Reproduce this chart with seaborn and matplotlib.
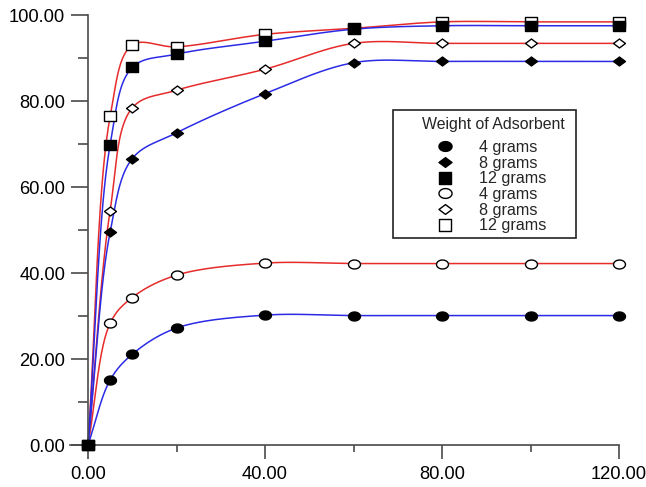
import numpy as np
import pandas as pd
import matplotlib
matplotlib.use("Agg")
import matplotlib.pyplot as plt
from matplotlib.path import Path
from matplotlib.lines import Line2D
from matplotlib.patches import Rectangle
from matplotlib.ticker import MultipleLocator, FormatStrFormatter
import seaborn as sns

# Contact time (min)
time_min = [0, 5, 10, 20, 40, 60, 80, 100, 120]

# Removal (%) - filled markers, blue curves
solid_4g = [0, 15.1, 21.1, 27.2, 30.2, 30.1, 30.1, 30.1, 30.1]
solid_8g = [0, 49.5, 66.6, 72.6, 81.7, 88.9, 89.2, 89.2, 89.2]
solid_12g = [0, 69.8, 87.8, 90.9, 93.9, 96.7, 97.5, 97.5, 97.5]

# Removal (%) - open markers, red curves
hollow_4g = [0, 28.3, 34.3, 39.5, 42.3, 42.2, 42.2, 42.2, 42.2]
hollow_8g = [0, 54.5, 78.4, 82.5, 87.4, 93.4, 93.4, 93.4, 93.4]
hollow_12g = [0, 76.4, 93.0, 92.6, 95.5, 96.9, 98.4, 98.4, 98.4]

legend_title = "Weight of Adsorbent"
legend_labels = ["4 grams", "8 grams", "12 grams", "4 grams", "8 grams", "12 grams"]

BLUE = "#2b2be6"
RED = "#e62b2b"


def centripetal_spline(x, y, steps=40, alpha=0.5, sx=4.425, sy=4.3):
    """Smooth parametric curve through the points (centripetal Catmull-Rom)."""
    P = np.column_stack([np.asarray(x, float) * sx, np.asarray(y, float) * sy])
    P = np.vstack([2 * P[0] - P[1], P, 2 * P[-1] - P[-2]])
    d = np.linalg.norm(np.diff(P, axis=0), axis=1) ** alpha
    d[d == 0] = 1e-9
    tk = np.concatenate([[0], np.cumsum(d)])
    s = np.linspace(0, 1, steps)[:, None]
    h00 = 2 * s ** 3 - 3 * s ** 2 + 1
    h10 = s ** 3 - 2 * s ** 2 + s
    h01 = -2 * s ** 3 + 3 * s ** 2
    h11 = s ** 3 - s ** 2

    def tangent(i):
        return ((P[i] - P[i - 1]) / (tk[i] - tk[i - 1])
                - (P[i + 1] - P[i - 1]) / (tk[i + 1] - tk[i - 1])
                + (P[i + 1] - P[i]) / (tk[i + 1] - tk[i]))

    out = []
    for i in range(1, len(P) - 2):
        dt = tk[i + 1] - tk[i]
        m0 = tangent(i) * dt
        m1 = tangent(i + 1) * dt
        out.append(h00 * P[i] + h10 * m0 + h01 * P[i + 1] + h11 * m1)
    out = np.vstack(out)
    return out[:, 0] / sx, out[:, 1] / sy


# marker shapes (slightly wider than tall)
t = np.linspace(0, 2 * np.pi, 61)
ELLIPSE = Path(np.column_stack([np.cos(t), 0.75 * np.sin(t)]), closed=True)
DIAMOND = Path([(-1, 0), (0, 0.75), (1, 0), (0, -0.75), (-1, 0)], closed=True)
SQUARE = Path([(-1, -0.92), (1, -0.92), (1, 0.92), (-1, 0.92), (-1, -0.92)], closed=True)

series = [
    ("hollow_4g", hollow_4g, RED, ELLIPSE, "white", 8.6),
    ("hollow_8g", hollow_8g, RED, DIAMOND, "white", 8.6),
    ("hollow_12g", hollow_12g, RED, SQUARE, "white", 8.0),
    ("solid_4g", solid_4g, BLUE, ELLIPSE, "black", 8.6),
    ("solid_8g", solid_8g, BLUE, DIAMOND, "black", 8.6),
    ("solid_12g", solid_12g, BLUE, SQUARE, "black", 8.0),
]

sns.set_style("ticks")
plt.rcParams["font.family"] = ["Liberation Sans", "DejaVu Sans"]

W, H = 646, 487
fig = plt.figure(figsize=(W / 100, H / 100), dpi=100)
ax = fig.add_axes([70 / W, 1 - 445 / H, (619 - 70) / W, (445 - 15) / H])

# smooth curves
curves = []
for name, vals, color, *_ in series:
    xs, ys = centripetal_spline(time_min, vals)
    curves.append(pd.DataFrame({"time": xs, "removal": ys, "series": name}))
curve_df = pd.concat(curves, ignore_index=True)
palette = {name: color for name, _, color, *_ in series}
sns.lineplot(data=curve_df, x="time", y="removal", hue="series", palette=palette,
             estimator=None, sort=False, linewidth=1.1, legend=False, ax=ax, zorder=2)

# markers
for z, (name, vals, color, shape, face, ms) in enumerate(series):
    ax.plot(time_min, vals, linestyle="none", marker=shape, markersize=ms,
            markerfacecolor=face, markeredgecolor="black", markeredgewidth=1.0,
            clip_on=False, zorder=3 + z)

ax.set_xlim(-18 / 4.425, 120)
ax.set_ylim(0, 100)
ax.spines["left"].set_position(("data", 0))
for side in ("top", "right"):
    ax.spines[side].set_visible(False)
for side in ("left", "bottom"):
    ax.spines[side].set_color("#4a4a4a")
    ax.spines[side].set_linewidth(1.2)

ax.xaxis.set_major_locator(MultipleLocator(40))
ax.yaxis.set_major_locator(MultipleLocator(20))
ax.yaxis.set_minor_locator(MultipleLocator(10))
ax.xaxis.set_major_formatter(FormatStrFormatter("%.2f"))
ax.yaxis.set_major_formatter(FormatStrFormatter("%.2f"))
ax.set_xticks([20, 60, 100], minor=True)

ax.tick_params(axis="both", which="major", colors="#4a4a4a", labelcolor="black",
               labelsize=13.2, width=1.2)
ax.tick_params(axis="y", which="major", length=12.5, pad=4)
ax.tick_params(axis="y", which="minor", length=7, width=1.2, colors="#4a4a4a")
ax.tick_params(axis="x", which="major", length=10, pad=5)
ax.tick_params(axis="x", which="minor", length=5, width=1.2, colors="#4a4a4a")
ax.set_xlabel("")
ax.set_ylabel("")

# legend: frame, title and entries
fig.patches.append(Rectangle((393 / W, 1 - 238 / H), (576 - 393) / W, (238 - 110) / H,
                             transform=fig.transFigure, fill=False,
                             edgecolor="#222222", linewidth=1.2, zorder=10))
fig.text(422 / W, 1 - 125 / H, legend_title, fontsize=11.4, ha="left", va="center")

handles = []
for (name, vals, color, shape, face, ms), label in zip(series[3:] + series[:3], legend_labels):
    handles.append(Line2D([], [], linestyle="none", marker=shape, markersize=ms + 0.8,
                          markerfacecolor=face, markeredgecolor="black",
                          markeredgewidth=1.0, label=label))
leg = ax.legend(handles=handles, loc="upper left",
                bbox_to_anchor=(422 / W, 1 - 140 / H), bbox_transform=fig.transFigure,
                borderaxespad=0, borderpad=0, frameon=False, fontsize=11.6,
                labelspacing=0.04, handletextpad=0.7, handlelength=2.85)

fig.savefig("out.png", dpi=100)
